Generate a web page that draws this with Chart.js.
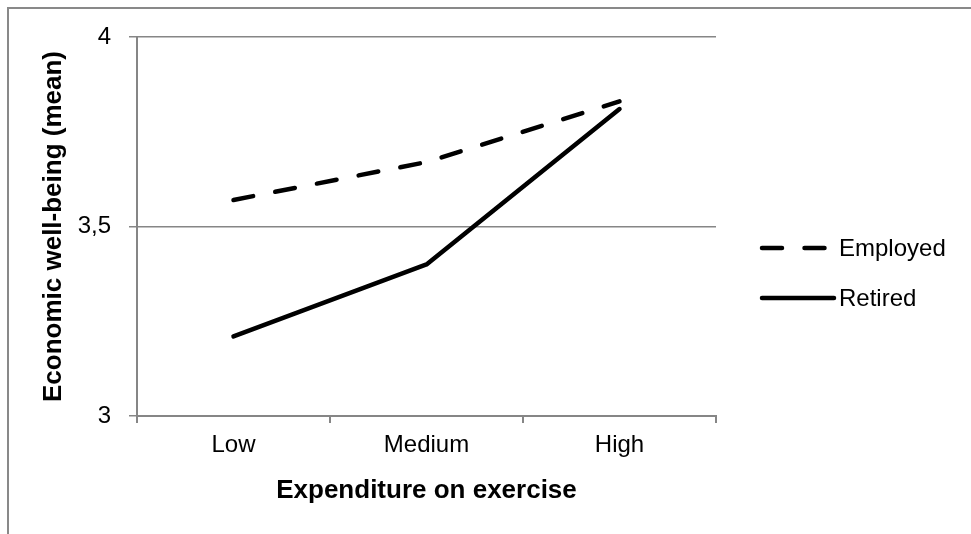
<!DOCTYPE html>
<html>
<head>
<meta charset="utf-8">
<script src="https://cdn.jsdelivr.net/npm/chart.js@4/dist/chart.umd.min.js"></script>
<style>
  html, body { margin: 0; padding: 0; background: #fff; overflow: hidden; }
  #wrap { position: relative; width: 971px; height: 534px; }
  #frame { position: absolute; left: 7px; top: 7px; width: 1000px; height: 600px;
           border: 2px solid #898989; box-sizing: border-box; pointer-events: none; }
</style>
</head>
<body>
<div id="wrap">
  <canvas id="myChart" width="971" height="534"></canvas>
  <div id="frame"></div>
</div>
<script>
// datos
const categorias = ['Low', 'Medium', 'High'];
const employed = [3.57, 3.67, 3.83];
const retired = [3.21, 3.40, 3.81];
const yTicks = [3, 3.5, 4];
const yTickLabels = ['3', '3,5', '4'];
const serieNombres = ['Employed', 'Retired'];

const gris = '#868686';
const fuente = 'Liberation Sans, Arial, sans-serif';

// leyenda dibujada a mano a la derecha
const leyendaPlugin = {
    id: 'leyendaPropia',
    afterDraw(chart) {
        const ctx = chart.ctx;
        const filas = [248, 298];
        chart.data.datasets.forEach((ds, i) => {
            const y = filas[i];
            ctx.save();
            ctx.strokeStyle = ds.borderColor;
            ctx.lineWidth = ds.borderWidth;
            ctx.lineCap = 'round';
            ctx.setLineDash(ds.borderDash || []);
            ctx.beginPath();
            ctx.moveTo(762, y);
            ctx.lineTo(i === 0 ? 826 : 834, y);
            ctx.stroke();
            ctx.setLineDash([]);
            ctx.fillStyle = '#000';
            ctx.font = '24px ' + fuente;
            ctx.textBaseline = 'middle';
            ctx.fillText(ds.label, 839, y + 1);
            ctx.restore();
        });
    }
};

let graph = document.querySelector('#myChart');
const config = {
    type: 'line',
    data: {
        labels: categorias,
        datasets: [
            {
                label: serieNombres[0],
                data: employed,
                borderColor: '#000',
                borderWidth: 4.5,
                borderDash: [20, 22.5],
                borderCapStyle: 'round',
                borderJoinStyle: 'round',
                pointRadius: 0,
                fill: false,
                tension: 0
            },
            {
                label: serieNombres[1],
                data: retired,
                borderColor: '#000',
                borderWidth: 4.5,
                borderCapStyle: 'round',
                borderJoinStyle: 'round',
                pointRadius: 0,
                fill: false,
                tension: 0
            }
        ]
    },
    options: {
        responsive: false,
        animation: false,
        layout: { padding: { top: 37, right: 255, bottom: 0, left: 0 } },
        plugins: {
            legend: { display: false },
            tooltip: { enabled: false }
        },
        scales: {
            x: {
                offset: true,
                grid: { drawOnChartArea: false, offset: true, tickLength: 7, color: gris, lineWidth: 2 },
                border: { color: gris, width: 2 },
                ticks: { color: '#000', font: { family: fuente, size: 24 }, padding: 8 },
                title: {
                    display: true,
                    text: 'Expenditure on exercise',
                    color: '#000',
                    font: { family: fuente, size: 26, weight: 'bold' },
                    padding: { top: 28, bottom: 28 }
                },
                afterFit: (scale) => { scale.height = 118; }
            },
            y: {
                min: 3,
                max: 4,
                afterBuildTicks: (scale) => { scale.ticks = yTicks.map(v => ({ value: v })); },
                grid: { tickLength: 8, color: gris, lineWidth: 1.5 },
                border: { color: gris, width: 2 },
                ticks: {
                    color: '#000',
                    font: { family: fuente, size: 24 },
                    padding: 18,
                    callback: (v) => yTickLabels[yTicks.indexOf(v)]
                },
                title: {
                    display: true,
                    text: 'Economic well-being (mean)',
                    color: '#000',
                    font: { family: fuente, size: 26, weight: 'bold' },
                    padding: { top: 38, bottom: 38 }
                },
                afterFit: (scale) => { scale.width = 137; }
            }
        }
    },
    plugins: [leyendaPlugin]
};

new Chart(graph, config);
</script>
</body>
</html>
